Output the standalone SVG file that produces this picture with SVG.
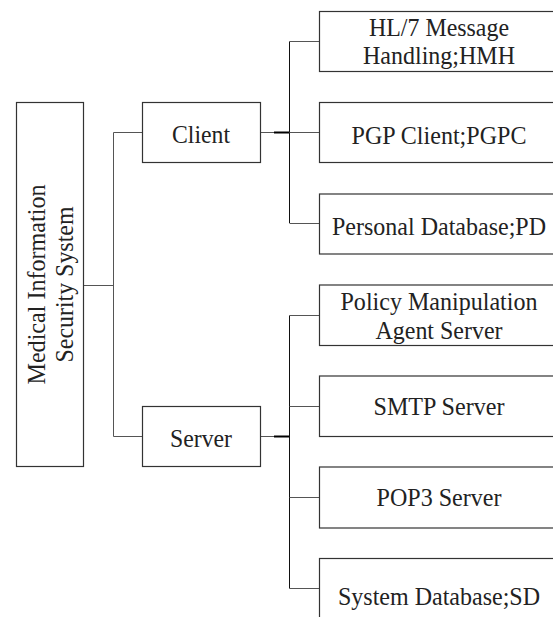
<svg xmlns="http://www.w3.org/2000/svg" width="553" height="617" viewBox="0 0 553 617">
<style>
.box{fill:#fff;stroke:#333;stroke-width:1.2}
.t{font-family:"Liberation Serif","Times New Roman",serif;font-size:25.5px;fill:#222;text-anchor:middle}
.c{fill:none;stroke:#555;stroke-width:1}
.k{fill:none;stroke:#111;stroke-width:1}
.th{fill:none;stroke:#000;stroke-width:2.2}
</style>
<rect width="553" height="617" fill="#fff"/>
<g id="connectors">
<path class="c" d="M83.5 285.5H113.5M113.5 132.5V436.5M113.5 132.5H142.5M113.5 436.5H142.5"/>
<path class="c" d="M260.5 132.5H274M260.5 436.5H274"/>
<path class="th" d="M274 132.5H289.5M274 436.5H289.5"/>
<path class="k" d="M289.5 41.5V223M289.5 315.5V588.5"/>
<path class="c" d="M289.5 41.5H319.5M289.5 132.5H319.5M289.5 223.5H319.5M289.5 315.5H319.5M289.5 406.5H319.5M289.5 497.5H319.5M289.5 588.5H319.5"/>
</g>
<g id="root">
<rect class="box" x="16.5" y="102.5" width="67" height="364"/>
<g transform="translate(45,284.5) rotate(-90)">
<text class="t" x="0" y="0" textLength="200" lengthAdjust="spacingAndGlyphs">Medical Information</text>
<text class="t" x="0" y="28" textLength="156" lengthAdjust="spacingAndGlyphs">Security System</text>
</g>
</g>
<g id="client">
<rect class="box" x="142.5" y="102.5" width="118" height="60"/>
<text class="t" x="201" y="142.5" textLength="58" lengthAdjust="spacingAndGlyphs">Client</text>
</g>
<g id="server">
<rect class="box" x="142.5" y="406.5" width="118" height="60"/>
<text class="t" x="201" y="446.5" textLength="62" lengthAdjust="spacingAndGlyphs">Server</text>
</g>
<g id="hmh">
<rect class="box" x="319.5" y="11.5" width="250" height="60"/>
<text class="t" x="439" y="36" textLength="140" lengthAdjust="spacingAndGlyphs">HL/7 Message</text>
<text class="t" x="439" y="64" textLength="152" lengthAdjust="spacingAndGlyphs">Handling;HMH</text>
</g>
<g id="pgpc">
<rect class="box" x="319.5" y="102.5" width="250" height="60"/>
<text class="t" x="439" y="144" textLength="175" lengthAdjust="spacingAndGlyphs">PGP Client;PGPC</text>
</g>
<g id="pd">
<rect class="box" x="319.5" y="194" width="250" height="60"/>
<text class="t" x="439" y="235" textLength="214" lengthAdjust="spacingAndGlyphs">Personal Database;PD</text>
</g>
<g id="pmas">
<rect class="box" x="319.5" y="285" width="250" height="60.5"/>
<text class="t" x="439" y="310" textLength="197" lengthAdjust="spacingAndGlyphs">Policy Manipulation</text>
<text class="t" x="439" y="339" textLength="127" lengthAdjust="spacingAndGlyphs">Agent Server</text>
</g>
<g id="smtp">
<rect class="box" x="319.5" y="376" width="250" height="60.5"/>
<text class="t" x="439" y="415" textLength="131" lengthAdjust="spacingAndGlyphs">SMTP Server</text>
</g>
<g id="pop3">
<rect class="box" x="319.5" y="467" width="250" height="61"/>
<text class="t" x="439" y="506" textLength="125" lengthAdjust="spacingAndGlyphs">POP3 Server</text>
</g>
<g id="sd">
<rect class="box" x="319.5" y="558.5" width="250" height="80"/>
<text class="t" x="439" y="605" textLength="202" lengthAdjust="spacingAndGlyphs">System Database;SD</text>
</g>
</svg>
